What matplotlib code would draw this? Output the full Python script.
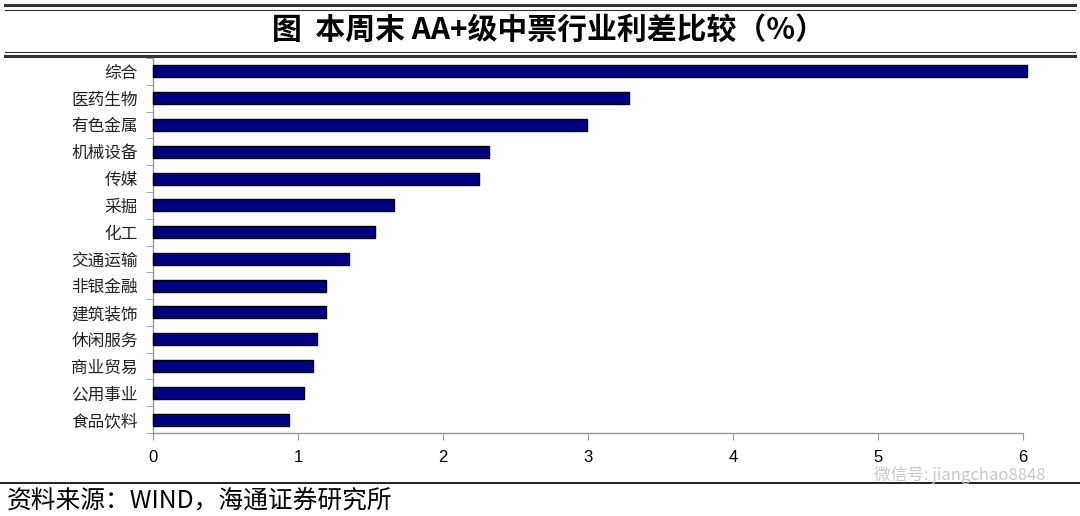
import matplotlib
matplotlib.use("Agg")
import matplotlib.pyplot as plt
from matplotlib.lines import Line2D

plt.rcParams['font.family'] = ['Noto Sans CJK SC', 'DejaVu Sans']

categories = ['综合', '医药生物', '有色金属', '机械设备', '传媒', '采掘', '化工',
              '交通运输', '非银金融', '建筑装饰', '休闲服务', '商业贸易', '公用事业', '食品饮料']
spreads = [6.03, 3.28, 2.99, 2.32, 2.25, 1.66, 1.53, 1.35, 1.19, 1.19, 1.13, 1.10, 1.04, 0.94]
x_ticks = [0, 1, 2, 3, 4, 5, 6]

title = '图  本周末 AA+级中票行业利差比较（%）'
source = '资料来源：WIND，海通证券研究所'
watermark = '微信号: jiangchao8848'

W, H = 1080, 516
fig = plt.figure(figsize=(W / 100, H / 100), dpi=100)

ax = fig.add_axes([153 / W, 1 - 433 / H, 870 / W, 375 / H])
n = len(categories)
ypos = list(range(n))
ax.barh(ypos, spreads, height=0.45, color='#000080', edgecolor='black',
        linewidth=1.0, clip_on=False, zorder=3)
ax.set_ylim(n - 0.5, -0.5)
ax.set_xlim(0, 6)

ax.set_yticks(ypos)
ax.set_yticklabels(categories, fontsize=12, color='#222222')
ax.tick_params(axis='y', length=0, pad=11)
# category boundary ticks
ax.set_yticks([i - 0.5 for i in range(n + 1)], minor=True)
ax.tick_params(axis='y', which='minor', length=5, color='#999999', direction='out')

ax.set_xticks(x_ticks)
ax.set_xticklabels([str(t) for t in x_ticks], fontsize=12,
                   family=['Liberation Sans', 'DejaVu Sans'])
ax.tick_params(axis='x', length=5, color='#999999', pad=7)

for s in ['top', 'right']:
    ax.spines[s].set_visible(False)
for s in ['left', 'bottom']:
    ax.spines[s].set_color('#999999')
    ax.spines[s].set_linewidth(1.0)

# title band lines
def hline(y, lw, color, x0=5, x1=1075):
    fig.add_artist(Line2D([x0 / W, x1 / W], [1 - y / H, 1 - y / H],
                          transform=fig.transFigure, lw=lw, color=color))

hline(5, 2.2, '#333333')
hline(9.5, 0.8, '#333333')
hline(51.5, 0.8, '#333333')
hline(56, 2.2, '#333333')
hline(483, 1.3, '#111111', 0, 1080)

fig.text(548 / W, 1 - 30 / H, title, ha='center', va='center',
         fontsize=21.5, fontweight='bold', color='black')
fig.text(7 / W, 1 - 501 / H, source, ha='left', va='center',
         fontsize=17.8, color='black')
fig.text(1045 / W, 1 - 475 / H, watermark, ha='right', va='center',
         fontsize=12, color='#c4c4c4', alpha=0.9)

fig.savefig('out.png', dpi=100, facecolor='white')
